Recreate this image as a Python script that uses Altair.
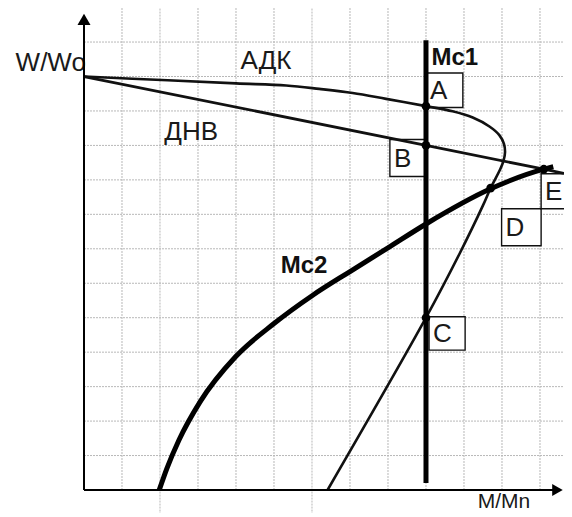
import altair as alt
import pandas as pd

# ---- data (grid units: x = M/Mn cells, y = W/Wo cells) ----
grid_x = [1, 2, 3, 4, 5, 6, 7, 8, 9, 10, 11, 12]
grid_x_low = [0, -0.8, 0, 0, 0, -0.8, 0, 0, 0, 0, 0, 0]
grid_y = [1, 2, 3, 4, 5, 6, 7, 8, 9, 10, 11, 12, 13]

# АДК curve (ordered along the curve)
adk_x = [0.0, 2.2, 4.0, 5.32, 6.19, 7.07, 7.95, 9.0, 9.70, 10.23, 10.67, 10.93,
         11.05, 11.08, 11.04, 10.95, 10.7, 10.5, 9.88, 9.0, 6.41]
adk_y = [12.0, 11.89, 11.80, 11.74, 11.64, 11.52, 11.35, 11.14, 10.99, 10.81, 10.55, 10.30,
         10.05, 9.8, 9.55, 9.3, 8.76, 8.26, 6.85, 5.0, 0.0]

# ДНВ line
dnv_x = [0.0, 9.0, 12.1, 12.63]
dnv_y = [12.0, 10.0, 9.31, 9.19]

# Mc2 load curve
mc2_x = [1.98, 2.18, 2.5, 3.05, 4.0, 5.0, 6.03, 7.0, 8.03, 9.0, 10.7, 12.1, 12.35]
mc2_y = [0.0, 0.62, 1.45, 2.55, 3.88, 4.83, 5.66, 6.34, 7.05, 7.72, 8.74, 9.31, 9.38]

# Mc1 load (vertical)
mc1_x = [9.0, 9.0]
mc1_y = [0.2, 13.05]

# operating points
pt_x = [9.0, 9.0, 9.0, 10.7, 12.1]
pt_y = [11.14, 10.0, 5.0, 8.76, 9.31]

# point label boxes
box_label = ["A", "B", "C", "D", "E"]
box_x0 = [9.0, 8.05, 9.08, 10.99, 12.03]
box_x1 = [9.97, 8.98, 10.03, 12.03, 13.1]
box_y0 = [11.1, 9.1, 4.06, 7.09, 8.16]
box_y1 = [12.1, 10.17, 5.03, 8.16, 9.18]

# text labels
lab_text = ["АДК", "ДНВ"]
lab_x = [4.79, 2.82]
lab_y = [12.45, 10.39]
bold_text = ["Mc1", "Mc2"]
bold_x = [9.76, 5.79]
bold_y = [12.55, 6.5]

XMAX = 12.632
YMAX = 13.93
xs = alt.Scale(domain=[0, XMAX], nice=False, zero=False)
ys = alt.Scale(domain=[0, YMAX], nice=False, zero=False)
FONT = "Liberation Sans"


def X(f):
    return alt.X(f, type="quantitative", scale=xs, axis=None)


def Y(f):
    return alt.Y(f, type="quantitative", scale=ys, axis=None)


grid_color = "#b8b8b8"
vgrid = alt.Chart(pd.DataFrame({"x": grid_x, "y0": grid_x_low, "y1": [14.3] * len(grid_x)})).mark_rule(
    color=grid_color, strokeWidth=1, strokeDash=[2, 1]
).encode(x=X("x"), y=Y("y0"), y2="y1")

hgrid = alt.Chart(pd.DataFrame({"y": grid_y, "x0": [0] * len(grid_y), "x1": [XMAX] * len(grid_y)})).mark_rule(
    color=grid_color, strokeWidth=1, strokeDash=[2, 1]
).encode(y=Y("y"), x=X("x0"), x2="x1")

boxes_df = pd.DataFrame({"label": box_label, "x0": box_x0, "x1": box_x1, "y0": box_y0, "y1": box_y1})
boxes_df["ym"] = (boxes_df["y0"] + boxes_df["y1"]) / 2
boxes = alt.Chart(boxes_df).mark_rect(fill="white", stroke="#111", strokeWidth=1.4).encode(
    x=X("x0"), x2="x1", y=Y("y0"), y2="y1"
)
box_text = alt.Chart(boxes_df).mark_text(
    font=FONT, fontSize=26, align="left", baseline="middle", dx=4, dy=1, color="#1a1a1a"
).encode(x=X("x0"), y=Y("ym"), text="label:N")

adk_df = pd.DataFrame({"x": adk_x, "y": adk_y, "o": list(range(len(adk_x)))})
adk = alt.Chart(adk_df).mark_line(color="#111", strokeWidth=2.6, interpolate="catmull-rom").encode(
    x=X("x"), y=Y("y"), order="o:Q"
)

dnv_df = pd.DataFrame({"x": dnv_x, "y": dnv_y})
dnv = alt.Chart(dnv_df).mark_line(color="#111", strokeWidth=2.8).encode(x=X("x"), y=Y("y"))

mc2_df = pd.DataFrame({"x": mc2_x, "y": mc2_y})
mc2 = alt.Chart(mc2_df).mark_line(color="#000", strokeWidth=5, interpolate="monotone").encode(
    x=X("x"), y=Y("y")
)

mc1_df = pd.DataFrame({"x": mc1_x, "y": mc1_y})
mc1 = alt.Chart(mc1_df).mark_line(color="#000", strokeWidth=5).encode(x=X("x"), y=Y("y"))

pts = alt.Chart(pd.DataFrame({"x": pt_x, "y": pt_y})).mark_circle(color="#000", size=75, opacity=1).encode(
    x=X("x"), y=Y("y")
)

labels = alt.Chart(pd.DataFrame({"t": lab_text, "x": lab_x, "y": lab_y})).mark_text(
    font=FONT, fontSize=26, align="center", baseline="middle", color="#1a1a1a"
).encode(x=X("x"), y=Y("y"), text="t:N")

bold_labels = alt.Chart(pd.DataFrame({"t": bold_text, "x": bold_x, "y": bold_y})).mark_text(
    font=FONT, fontSize=24, fontWeight="bold", align="center", baseline="middle", color="#111"
).encode(x=X("x"), y=Y("y"), text="t:N")

ylab = alt.Chart(pd.DataFrame({"t": ["W/Wo"], "x": [0.05], "y": [12.39]})).mark_text(
    font=FONT, fontSize=26, align="right", baseline="middle", color="#1a1a1a"
).encode(x=X("x"), y=Y("y"), text="t:N")

xlab = alt.Chart(pd.DataFrame({"t": ["M/Mn"], "x": [11.05], "y": [-0.52]})).mark_text(
    font=FONT, fontSize=21, align="center", baseline="alphabetic", color="#1a1a1a"
).encode(x=X("x"), y=Y("y"), text="t:N")

# axes with arrows
yaxis = alt.Chart(pd.DataFrame({"x": [0.0], "y0": [0.0], "y1": [13.5]})).mark_rule(
    color="#000", strokeWidth=2
).encode(x=X("x"), y=Y("y0"), y2="y1")
xaxis = alt.Chart(pd.DataFrame({"y": [0.0], "x0": [0.0], "x1": [12.42]})).mark_rule(
    color="#000", strokeWidth=2
).encode(y=Y("y"), x=X("x0"), x2="x1")
yarrow = alt.Chart(pd.DataFrame({"x": [0.0], "y": [13.66]})).mark_point(
    shape="triangle-up", filled=True, color="#000", size=170, opacity=1
).encode(x=X("x"), y=Y("y"))
xarrow = alt.Chart(pd.DataFrame({"x": [12.46], "y": [0.0]})).mark_point(
    shape="triangle-right", filled=True, color="#000", size=150, opacity=1
).encode(x=X("x"), y=Y("y"))

chart = alt.layer(
    vgrid, hgrid, boxes, adk, dnv, mc2, mc1, pts, box_text, labels, bold_labels,
    ylab, xlab, yaxis, xaxis, yarrow, xarrow
).properties(
    width=480, height=480,
    autosize=alt.AutoSizeParams(type="none"),
    padding={"left": 76, "top": 2, "right": 0, "bottom": 23},
    background="white",
).configure_view(strokeWidth=0)

chart.save("out.html", embed_options={"renderer": "svg", "actions": False})
